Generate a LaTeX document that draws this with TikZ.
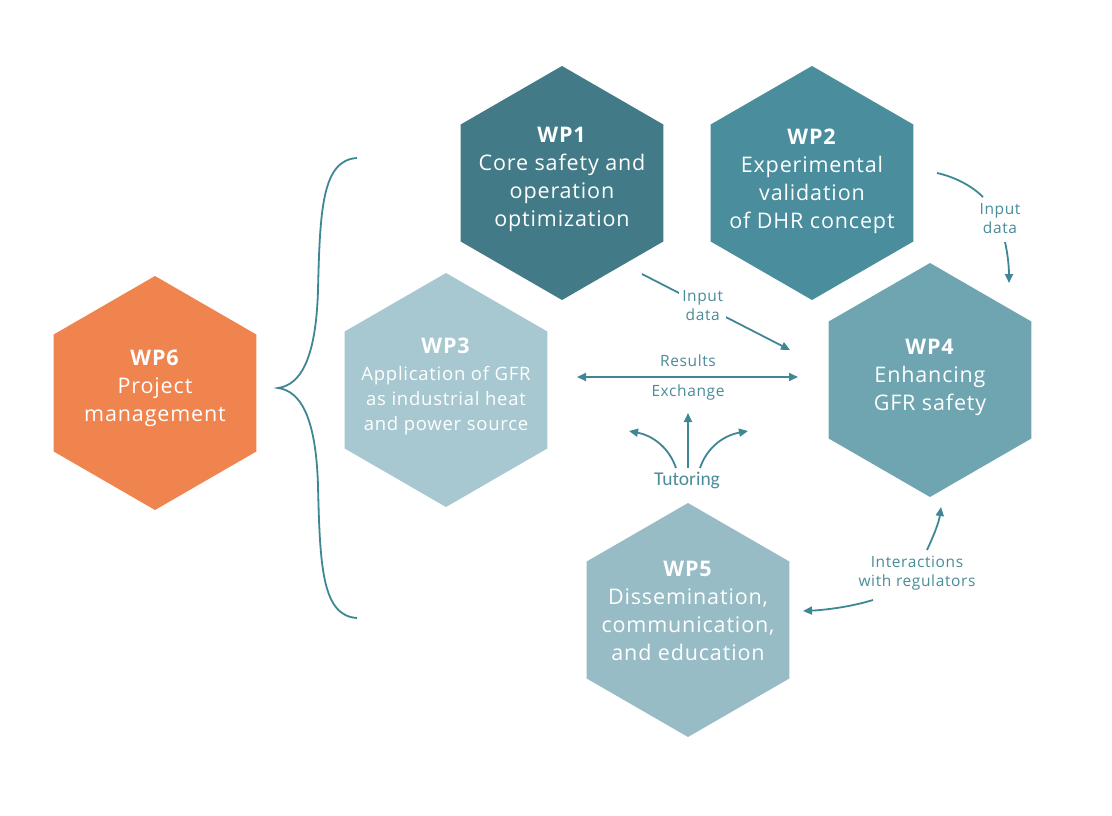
\documentclass[tikz,border=0pt]{standalone}
\usepackage{fontspec}
\setmainfont{Open Sans}[LetterSpace=4]
\newfontfamily\tutfont{Carlito}
\usetikzlibrary{arrows.meta}
\definecolor{cwpone}{HTML}{427B87}
\definecolor{cwptwo}{HTML}{4A8D9D}
\definecolor{cwpthree}{HTML}{A7C8D0}
\definecolor{cwpfour}{HTML}{6FA5B1}
\definecolor{cwpfive}{HTML}{97BCC5}
\definecolor{cwpsix}{HTML}{EF844F}
\definecolor{cline}{HTML}{3F8795}
\definecolor{clabel}{HTML}{4A8C99}
\newcommand\hexshape[3]{\fill[#3] (#1,#2) ++(0,-117) -- ++(101.3,58.5) -- ++(0,117) -- ++(-101.3,58.5) -- ++(-101.3,-58.5) -- ++(0,-117) -- cycle;}
\begin{document}
\begin{tikzpicture}[x=1pt,y=-1pt,
  hextext/.style={text=white,align=center,font=\fontsize{21.5}{28}\selectfont,inner sep=0pt},
  lbl/.style={text=clabel,align=center,font=\fontsize{15.5}{19}\selectfont,inner sep=1pt},
  conn/.style={draw=cline,line width=1.8pt},
  arr/.style={conn,-{Triangle[length=9pt,width=8pt]}},
  darr/.style={conn,{Triangle[length=9pt,width=8pt]}-{Triangle[length=9pt,width=8pt]}}]
\useasboundingbox[fill=white] (0,0) rectangle (1112,816);
% hexagons
\hexshape{562}{183}{cwpone}
\hexshape{812}{183}{cwptwo}
\hexshape{446}{390}{cwpthree}
\hexshape{930}{380}{cwpfour}
\hexshape{688}{620}{cwpfive}
\hexshape{155}{393}{cwpsix}
% texts
\node[hextext] (wp1) at (562,179) {\textbf{WP1}\\Core safety and\\operation\\optimization};
\node[hextext] (wp2) at (812,181) {\textbf{WP2}\\Experimental\\validation\\of DHR concept};
\node[hextext,font=\fontsize{18.5}{25}\selectfont] (wp3) at (446,386) {{\fontsize{21.5}{28}\selectfont\textbf{WP3}}\\[2pt]Application of GFR\\as industrial heat\\and power source};
\node[hextext] (wp4) at (930,377) {\textbf{WP4}\\Enhancing\\GFR safety};
\node[hextext] (wp5) at (688,611) {\textbf{WP5}\\Dissemination,\\communication,\\and education};
\node[hextext] (wp6) at (155,388) {\textbf{WP6}\\Project\\management};
% brace
\coordinate (bt) at (357,158);
\coordinate (btip) at (278,388);
\coordinate (bb) at (357,618);
\draw[conn] (bt) .. controls (322,160) and (320,210) .. (318,290) .. controls (316,360) and (300,385) .. (btip)
  .. controls (300,391) and (316,416) .. (318,486) .. controls (320,566) and (322,616) .. (bb);
% WP1 -> WP4 input data
\coordinate (a1s) at (642,274);
\coordinate (a1e) at (790,350);
\draw[arr] (a1s) -- node[pos=0.41,lbl,fill=white,inner sep=3pt] (lin1) {Input\\data} (a1e);
% results exchange
\coordinate (rl) at (577,377);
\coordinate (rr) at (798,377);
\draw[darr] (rl) -- (rr);
\node[lbl] (lres) at (688,361) {Results};
\node[lbl] (lexc) at (688,392) {Exchange};
% tutoring
\node[lbl,font=\tutfont\fontsize{19.5}{19}\selectfont] (ltut) at (687,480) {Tutoring};
\coordinate (tm) at (688,468);
\coordinate (tme) at (688,413);
\coordinate (tl) at (676,468);
\coordinate (tle) at (629,431);
\coordinate (tr) at (700,468);
\coordinate (tre) at (748,431);
\draw[arr] (tm) -- (tme);
\draw[arr] (tl) .. controls (668,445) and (650,435) .. (tle);
\draw[arr] (tr) .. controls (708,445) and (726,435) .. (tre);
% interactions with regulators
\node[lbl] (lint) at (917,573) {Interactions\\with regulators};
\coordinate (is1) at (927,550);
\coordinate (ie1) at (941,507);
\coordinate (is2) at (873,600);
\coordinate (ie2) at (803,611);
\draw[arr] (is1) .. controls (934,535) and (939,522) .. (ie1);
\draw[arr] (is2) .. controls (850,607) and (825,610) .. (ie2);
% WP2 -> WP4 input data
\node[lbl] (lin2) at (1000,219) {Input\\data};
\coordinate (ws1) at (937,173);
\coordinate (we1) at (983,197);
\coordinate (ws2) at (1005,242);
\coordinate (we2) at (1009,283);
\draw[conn] (ws1) .. controls (955,177) and (972,186) .. (we1);
\draw[arr] (ws2) .. controls (1008,255) and (1009,268) .. (we2);
\end{tikzpicture}
\end{document}
